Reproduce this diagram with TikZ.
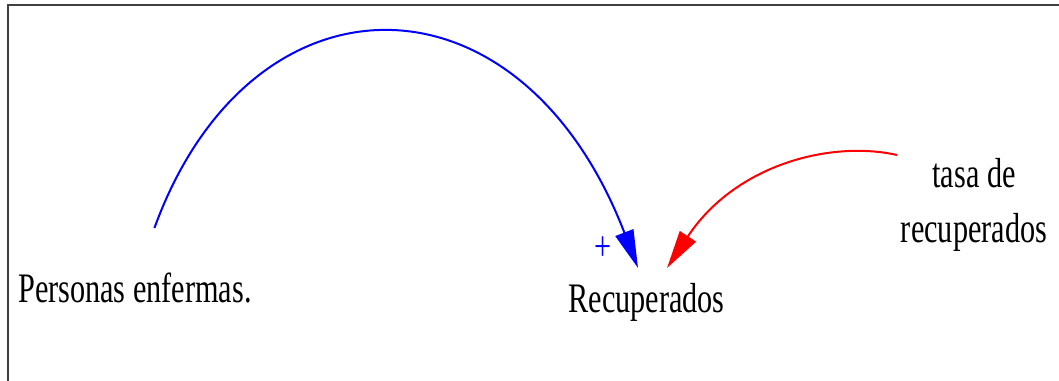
\documentclass[tikz,border=0pt]{standalone}
\usepackage{fontspec}
\setmainfont{Liberation Serif}[FakeStretch=0.72]
\usetikzlibrary{arrows.meta}
\begin{document}
\begin{tikzpicture}[x=1pt,y=-1pt,
  lbl/.style={inner sep=0pt,font=\fontsize{42}{55}\selectfont},
  link/.style={line width=2pt,-{Triangle[length=38pt,width=19pt]}},
  frame/.style={line width=1.6pt,draw=black!75}]
\useasboundingbox (0,0) rectangle (1059,380);
\draw[frame] (8,400) -- (8,5) -- (1070,5);
\node[lbl,anchor=base west] (pe) at (18,302) {Personas enfermas.};
\node[lbl,anchor=base] (rc) at (646.5,312) {Recuperados};
\node[lbl,anchor=base,align=center] (tr) at (974,242) {tasa de\\recuperados};
\node[lbl,text=blue] (plus) at (603,249) {+};
\draw[link,blue] ([shift={(19.5,-74)}]pe.base) .. controls +(96,-264) and +(-118,-306) .. ([shift={(-8.5,-44)}]rc.base);
\draw[link,red] ([shift={(-77,-87)}]tr.base) .. controls +(-67,-15) and +(68,-103) .. ([shift={(20.5,-44)}]rc.base);
\end{tikzpicture}
\end{document}
